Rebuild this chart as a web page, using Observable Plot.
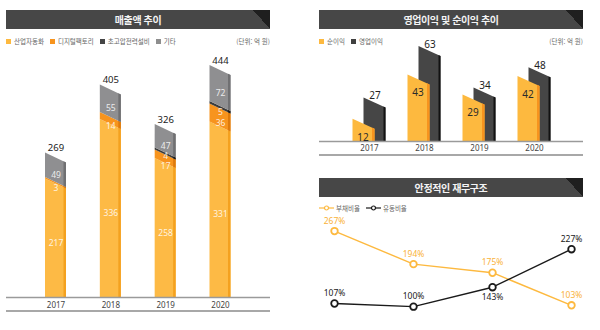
<!DOCTYPE html>
<html lang="ko">
<head>
<meta charset="utf-8">
<script src="https://cdn.jsdelivr.net/npm/d3@7"></script>
<script src="https://cdn.jsdelivr.net/npm/@observablehq/plot@0.6"></script>
<style>
html,body{margin:0;padding:0;background:#fff;}
body{width:600px;height:330px;position:relative;overflow:hidden;font-family:"Noto Sans CJK KR","Noto Sans",sans-serif;}
.hdr{position:absolute;height:19px;line-height:19px;color:#f4f4f4;font-weight:bold;font-size:10px;letter-spacing:-0.4px;text-align:center;
 background:linear-gradient(to bottom left,#1f1f1f 50%,rgba(0,0,0,0) 50%) right top/17px 19px no-repeat,#474747;}
.leg{position:absolute;height:10px;font-size:6.5px;color:#666;line-height:10px;white-space:nowrap;display:flex;align-items:center;}
.leg .item{display:inline-flex;align-items:center;margin-right:6px;}
.sw{display:inline-block;width:5px;height:5px;margin-right:3px;}
.leg svg{margin-right:2px;}
.unit{position:absolute;font-size:6.5px;color:#666;line-height:10px;text-align:right;white-space:nowrap;}
.tline{position:absolute;height:1.5px;background:#a8a8a8;}
.chart{position:absolute;}
.chart svg{overflow:visible;display:block;}
</style>
</head>
<body>
<div class="hdr" id="h1" style="left:6px;top:10px;width:264px"></div>
<div class="leg" id="l1" style="left:6px;top:36px"></div>
<div class="unit" id="u1" style="left:6px;top:36px;width:264px"></div>
<div class="chart" id="c1" style="left:6px;top:48px"></div>
<div class="tline" style="left:6px;top:310px;width:264px"></div>

<div class="hdr" id="h2" style="left:319px;top:10px;width:264px"></div>
<div class="leg" id="l2" style="left:319px;top:36px"></div>
<div class="unit" id="u2" style="left:319px;top:36px;width:264px"></div>
<div class="chart" id="c2" style="left:319px;top:34px"></div>
<div class="tline" style="left:319px;top:154px;width:264px"></div>

<div class="hdr" id="h3" style="left:319px;top:178px;width:264px"></div>
<div class="leg" id="l3" style="left:319px;top:203px"></div>
<div class="chart" id="c3" style="left:300px;top:212px"></div>

<script>
// ---------------- DATA ----------------
const years = [2017, 2018, 2019, 2020];

const salesTitle = "매출액 추이";
const salesSeries = ["산업자동화", "디지털팩토리", "초고압전력설비", "기타"];
const salesAutomation = [217, 336, 258, 331];
const salesDigital = [3, 14, 17, 36];
const salesHV = [0, 0, 4, 5];
const salesOther = [49, 55, 47, 72];
const salesTotal = [269, 405, 326, 444];

const profitTitle = "영업이익 및 순이익 추이";
const profitSeries = ["순이익", "영업이익"];
const netIncome = [12, 43, 29, 42];
const operatingIncome = [27, 63, 34, 48];

const ratioTitle = "안정적인 재무구조";
const ratioSeries = ["부채비율", "유동비율"];
const debtRatio = [267, 194, 175, 103];
const currentRatio = [107, 100, 143, 227];

const unitLabel = "(단위: 억 원)";

// ---------------- STYLE ----------------
const FONT = "'Noto Sans','Noto Sans CJK KR',sans-serif";
const salesColors = ["#FDBA45", "#F7941E", "#3C3C3C", "#8F8F91"];
const salesSides  = ["#F4A11F", "#DD7A0C", "#1C1C1C", "#707072"];
const netColor = "#FDB93F", netSide = "#F7941E";
const opColor = "#464646", opSide = "#121212";
const debtColor = "#FDB93F", curColor = "#1a1a1a";

// headers / legends
document.getElementById("h1").textContent = salesTitle;
document.getElementById("h2").textContent = profitTitle;
document.getElementById("h3").textContent = ratioTitle;
document.getElementById("u1").textContent = unitLabel;
document.getElementById("u2").textContent = unitLabel;

function squareLegend(el, names, colors) {
  names.forEach((n, i) => {
    const s = document.createElement("span");
    s.className = "item";
    s.innerHTML = `<i class="sw" style="background:${colors[i]}"></i>${n}`;
    el.appendChild(s);
  });
}
squareLegend(document.getElementById("l1"), salesSeries, ["#FDB93F", "#F7941E", "#454545", "#8E8E8E"]);
squareLegend(document.getElementById("l2"), profitSeries, [netColor, "#404040"]);
(function () {
  const el = document.getElementById("l3");
  ratioSeries.forEach((n, i) => {
    const c = [debtColor, curColor][i];
    const s = document.createElement("span");
    s.className = "item";
    s.innerHTML = `<svg width="15" height="6"><line x1="0" y1="3" x2="15" y2="3" stroke="${c}" stroke-width="1.2"/><circle cx="7.5" cy="3" r="2" fill="#fff" stroke="${c}" stroke-width="1.2"/></svg>${n}`;
    el.appendChild(s);
  });
})();

// helper: slanted 3D-ish bar segment as area points (data units)
function addBar(out, id, xl, xr, lo, hi, sl, centred, fill, side, sideW) {
  const off = x => centred ? sl * (0.5 - (x - xl) / (xr - xl)) : sl * (xr - x) / (xr - xl);
  const p = (x, k, f) => ({id: id + k, x, y1: lo > 0 ? lo + off(x) : 0, y2: hi + off(x), fill: f});
  out.push(p(xl, "m", fill), p(xr, "m", fill), p(xr - sideW, "s", side), p(xr, "s", side));
}

// ---------------- CHART 1: sales stacked ----------------
{
  const K = 0.5, base = 249, W = 264, H = 266;
  const R = [49.5, 214], ppy = (R[1] - R[0]) / 3;
  const hw = 10.5 / ppy, sw = 2.5 / ppy, sl = 10 / K;
  const vals = [salesAutomation, salesDigital, salesHV, salesOther];
  const pts = [], segs = [];
  years.forEach((yr, i) => {
    let acc = 0;
    vals.forEach((arr, s) => {
      const v = arr[i];
      if (v > 0) {
        addBar(pts, `${yr}-${s}`, yr - hw, yr + hw, acc, acc + v, sl, false, salesColors[s], salesSides[s], sw);
        segs.push({yr, v, mid: acc + v / 2, s});
      }
      acc += v;
    });
  });
  // nudge labels of thin neighbouring segments apart so they stay readable
  segs.forEach((d, k) => {
    const prev = segs[k - 1], next = segs[k + 1];
    d.shift = 0;
    if (d.v < 10 && prev && prev.yr === d.yr && prev.v < 20) d.shift = -3;
    if (next && next.yr === d.yr && next.v < 10 && d.v < 20) d.shift = 2;
  });
  const totals = years.map((yr, i) => ({yr, v: salesTotal[i]}));
  const segText = (filter, dy) => Plot.text(segs, {filter, x: "yr", y: "mid", text: d => String(d.v), dy, fill: "#fff", fillOpacity: 0.85, fontSize: 8.5, letterSpacing: -0.4});
  const chart = Plot.plot({
    width: W, height: H, marginLeft: 0, marginRight: 0, marginTop: 0, marginBottom: H - base,
    x: {type: "linear", domain: [2017, 2020], range: R, axis: null},
    y: {type: "linear", domain: [0, base / K], range: [base, 0], axis: null},
    color: {type: "identity"},
    style: {fontFamily: FONT, background: "transparent"},
    marks: [
      Plot.areaY(pts, {x: "x", y1: "y1", y2: "y2", z: "id", fill: "fill", curve: "linear"}),
      Plot.ruleY([0], {stroke: "#9a9a9a", strokeWidth: 1.5}),
      segText(d => d.shift === 0, 0),
      segText(d => d.shift < 0, -3),
      segText(d => d.shift > 0, 2),
      Plot.text(totals, {x: "yr", y: "v", text: d => String(d.v), dy: -15, fill: "#222", fontSize: 9.5, letterSpacing: -0.4}),
      Plot.text(years, {x: d => d, y: 0, dy: 8, text: d => String(d), fill: "#444", fontSize: 8, letterSpacing: -0.6})
    ]
  });
  document.getElementById("c1").appendChild(chart);
}

// ---------------- CHART 2: profits ----------------
{
  const K = 1.43, base = 107, W = 264, H = 124;
  const R = [50, 215], ppy = (R[1] - R[0]) / 3;
  const hw = 11 / ppy, off = 5.5 / ppy, sl = 10 / K;
  const opPts = [], netPts = [];
  years.forEach((yr, i) => addBar(opPts, "op" + yr, yr + off - hw, yr + off + hw, 0, operatingIncome[i], sl, true, opColor, opSide, 2 / ppy));
  years.forEach((yr, i) => addBar(netPts, "ni" + yr, yr - off - hw, yr - off + hw, 0, netIncome[i], sl, true, netColor, netSide, 2.5 / ppy));
  const net = years.map((yr, i) => ({yr, v: netIncome[i]}));
  const op = years.map((yr, i) => ({yr, v: operatingIncome[i]}));
  const chart = Plot.plot({
    width: W, height: H, marginLeft: 0, marginRight: 0, marginTop: 0, marginBottom: H - base,
    x: {type: "linear", domain: [2017, 2020], range: R, axis: null},
    y: {type: "linear", domain: [0, base / K], range: [base, 0], axis: null},
    color: {type: "identity"},
    style: {fontFamily: FONT, background: "transparent"},
    marks: [
      Plot.areaY(opPts, {x: "x", y1: "y1", y2: "y2", z: "id", fill: "fill", curve: "linear"}),
      Plot.areaY(netPts, {x: "x", y1: "y1", y2: "y2", z: "id", fill: "fill", curve: "linear"}),
      Plot.ruleY([0], {stroke: "#9a9a9a", strokeWidth: 1.5}),
      Plot.text(net, {x: d => d.yr - off, y: "v", text: d => String(d.v), dx: -1, dy: 13, fill: "#2b2b2b", fontSize: 10, letterSpacing: -0.4}),
      Plot.text(op, {x: d => d.yr + off, y: "v", text: d => String(d.v), dy: -7, fill: "#222", fontSize: 10, letterSpacing: -0.4}),
      Plot.text(years, {x: d => d, y: 0, dy: 7, text: d => String(d), fill: "#444", fontSize: 8, letterSpacing: -0.6})
    ]
  });
  document.getElementById("c2").appendChild(chart);
}

// ---------------- CHART 3: ratios ----------------
{
  const W = 300, H = 118;
  const debt = years.map((yr, i) => ({yr, v: debtRatio[i], other: currentRatio[i]}));
  const cur = years.map((yr, i) => ({yr, v: currentRatio[i], other: debtRatio[i]}));
  // current-ratio label goes below its point where the debt line runs just above it
  const below = d => d.other > d.v && d.other - d.v < 50;
  const chart = Plot.plot({
    width: W, height: H, margin: 0,
    x: {type: "point", domain: years, range: [33, 272], padding: 0, axis: null},
    y: {type: "linear", domain: [90, 280], range: [98.7, 12.7], axis: null},
    style: {fontFamily: FONT, background: "transparent"},
    marks: [
      Plot.line(debt, {x: "yr", y: "v", stroke: debtColor, strokeWidth: 1.4}),
      Plot.line(cur, {x: "yr", y: "v", stroke: curColor, strokeWidth: 1.4}),
      Plot.dot(debt, {x: "yr", y: "v", r: 3.3, fill: "#fff", stroke: debtColor, strokeWidth: 1.8}),
      Plot.dot(cur, {x: "yr", y: "v", r: 3.3, fill: "#fff", stroke: curColor, strokeWidth: 1.8}),
      Plot.text(debt, {x: "yr", y: "v", text: d => d.v + "%", dy: -10, fill: "#F9B23A", fontSize: 8.5, letterSpacing: -0.5}),
      Plot.text(cur, {filter: d => !below(d), x: "yr", y: "v", text: d => d.v + "%", dy: -10, fill: "#222", fontSize: 8.5, letterSpacing: -0.5}),
      Plot.text(cur, {filter: below, x: "yr", y: "v", text: d => d.v + "%", dy: 10, fill: "#222", fontSize: 8.5, letterSpacing: -0.5})
    ]
  });
  document.getElementById("c3").appendChild(chart);
}
</script>
</body>
</html>
